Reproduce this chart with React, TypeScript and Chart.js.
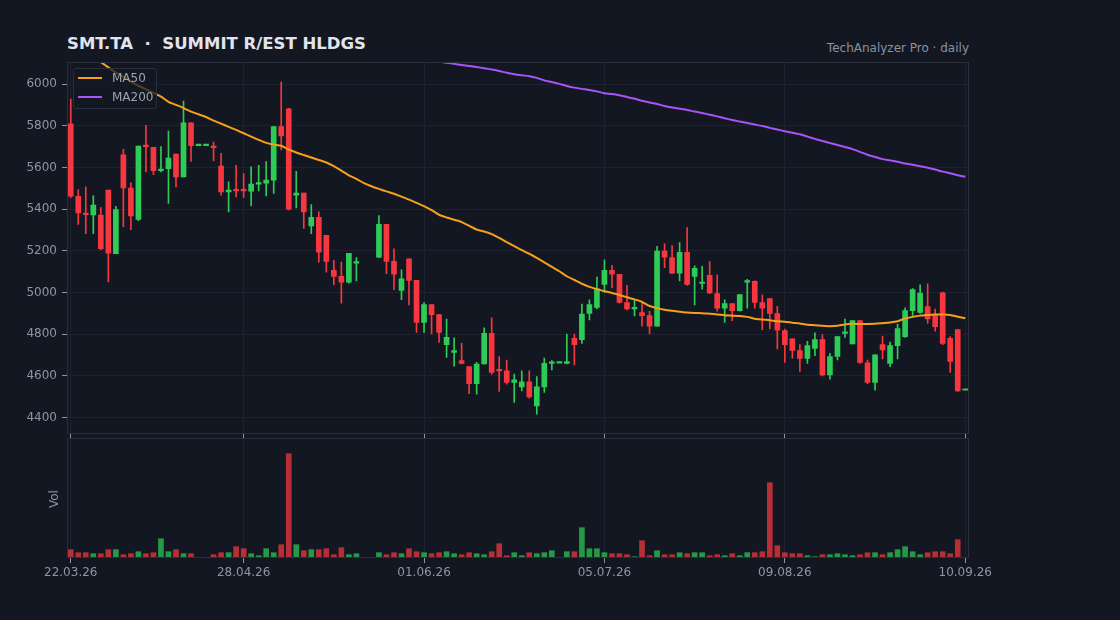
import React, { useEffect, useRef } from 'react';
import { Chart, registerables } from 'chart.js';

Chart.register(...registerables);

// ---------- data ----------
const opens: (number | null)[] = [
  5809, 5462, 5380, 5372, 5371, 5491, 5186, 5660, 5501, 5351,
  5703, 5697, 5584, 5594, 5664, 5554, 5814, 5705, 5705, 5703,
  5607, 5483, 5491, 5491, 5486, 5520, 5525, 5539, 5796, 5881,
  5467, 5477, 5319, 5361, 5274, 5106, 5077, 5050, 5141, null,
  null, 5170, 5327, 5149, 5010, 5162, 5058, 4857, 4942, 4894,
  4750, 4713, 4673, 4644, 4563, 4657, 4804, 4629, 4624, 4568,
  4547, 4571, 4456, 4547, 4660, 4661, 4660, 4780, 4774, 4900,
  4929, 5039, 5106, 5087, 4952, 4921, 4904, 4889, 4838, 5199,
  5167, 5093, 5193, 5077, 5043, 5082, 4995, 4925, 4947, 4913,
  5050, 5053, 4952, 4971, 4899, 4817, 4778, 4721, 4684, 4732,
  4774, 4605, 4693, 4804, 4753, 4865, 4663, 4568, 4750, 4660,
  4745, 4788, 4913, 4904, 4933, 4889, 4998, 4780, 4822, 4531,
];
const highs: (number | null)[] = [
  5928, 5494, 5507, 5465, 5408, 5491, 5414, 5687, 5526, 5703,
  5802, 5697, 5700, 5774, 5664, 5918, 5814, 5705, 5705, 5722,
  5668, 5531, 5610, 5571, 5603, 5610, 5628, 5796, 6010, 5884,
  5581, 5477, 5422, 5387, 5274, 5154, 5146, 5188, 5167, null,
  null, 5369, 5327, 5209, 5109, 5162, 5058, 4952, 4942, 4894,
  4873, 4782, 4756, 4644, 4665, 4830, 4878, 4692, 4676, 4608,
  4624, 4624, 4597, 4685, 4673, 4661, 4801, 4801, 4945, 4965,
  5074, 5157, 5130, 5087, 5035, 4965, 4952, 4910, 5221, 5234,
  5225, 5239, 5311, 5128, 5125, 5148, 5085, 4965, 4947, 4990,
  5063, 5056, 4989, 4971, 4934, 4825, 4778, 4750, 4766, 4806,
  4798, 4708, 4788, 4873, 4865, 4865, 4676, 4701, 4791, 4762,
  4849, 4926, 5019, 5037, 5042, 4921, 5002, 4788, 4822, 4531,
];
const lows: (number | null)[] = [
  5455, 5327, 5282, 5282, 5205, 5051, 5186, 5315, 5302, 5345,
  5579, 5565, 5579, 5427, 5507, 5554, 5629, 5705, 5705, 5632,
  5467, 5387, 5459, 5456, 5416, 5488, 5464, 5475, 5684, 5396,
  5406, 5307, 5282, 5146, 5098, 5037, 4949, 5045, 5055, null,
  null, 5167, 5090, 5013, 4965, 4941, 4809, 4809, 4801, 4761,
  4689, 4647, 4657, 4515, 4512, 4657, 4608, 4525, 4560, 4472,
  4528, 4493, 4416, 4520, 4628, 4661, 4657, 4652, 4756, 4868,
  4921, 5002, 5022, 4949, 4917, 4888, 4838, 4801, 4838, 5119,
  5090, 5055, 5034, 4941, 5016, 4994, 4910, 4857, 4865, 4910,
  4925, 4925, 4820, 4825, 4729, 4665, 4685, 4621, 4660, 4697,
  4600, 4584, 4676, 4785, 4753, 4660, 4563, 4531, 4681, 4644,
  4681, 4785, 4888, 4900, 4852, 4814, 4750, 4616, 4525, 4531,
];
const closes: (number | null)[] = [
  5462, 5382, 5374, 5419, 5210, 5189, 5398, 5502, 5368, 5703,
  5700, 5584, 5592, 5645, 5555, 5814, 5705, 5705, 5705, 5695,
  5483, 5491, 5488, 5488, 5520, 5523, 5539, 5796, 5751, 5400,
  5477, 5387, 5361, 5194, 5149, 5077, 5050, 5188, 5148, null,
  null, 5327, 5149, 5088, 5066, 5058, 4857, 4942, 4894, 4809,
  4785, 4721, 4660, 4563, 4657, 4804, 4616, 4624, 4568, 4581,
  4571, 4499, 4547, 4660, 4662, 4661, 4668, 4750, 4897, 4942,
  5018, 5106, 5088, 4952, 4921, 4929, 4889, 4838, 5199, 5170,
  5093, 5193, 5039, 5116, 5050, 4998, 4925, 4947, 4913, 4990,
  5055, 4952, 4925, 4900, 4819, 4750, 4722, 4684, 4745, 4774,
  4605, 4692, 4788, 4807, 4865, 4664, 4568, 4701, 4724, 4745,
  4827, 4913, 5014, 4997, 4873, 4836, 4756, 4669, 4528, 4531,
];
const volumes: (number | null)[] = [
  8300, 5300, 5300, 4300, 4300, 8300, 8300, 3300, 4300, 6300,
  4300, 5300, 19300, 6300, 8300, 4300, 4300, 0, 0, 3300,
  5300, 5300, 11300, 9300, 4300, 2300, 9300, 5300, 13300, 104300,
  13300, 7300, 8300, 8300, 9300, 3300, 10300, 3300, 4300, null,
  null, 5300, 3300, 5300, 4300, 9300, 6300, 5300, 4300, 5300,
  6300, 4300, 3300, 5300, 4300, 3300, 6300, 14300, 2300, 5300,
  2300, 5300, 4300, 5300, 7300, 0, 6300, 6300, 30300, 9300,
  9300, 5300, 4300, 4300, 3300, 1300, 17300, 2300, 7300, 3300,
  3300, 5300, 4300, 5300, 5300, 2300, 3300, 2300, 4300, 2300,
  5300, 5300, 6300, 75300, 12300, 5300, 4300, 4300, 2300, 1300,
  3300, 3300, 4300, 3300, 2300, 3300, 5300, 5300, 3300, 5300,
  8300, 11300, 6300, 3300, 5300, 6300, 6300, 4300, 18300, 0,
];
const ma50: number[] = [
  6190, 6170, 6150, 6128, 6105, 6080, 6055, 6035, 6012, 5992,
  5975, 5958, 5940, 5915, 5900, 5885, 5868, 5855, 5842, 5825,
  5810, 5795, 5780, 5764, 5748, 5732, 5718, 5710, 5704, 5686,
  5672, 5660, 5648, 5636, 5624, 5606, 5585, 5562, 5545, 5525,
  5510, 5497, 5485, 5474, 5460, 5446, 5430, 5414, 5395, 5373,
  5360, 5349, 5338, 5320, 5302, 5293, 5280, 5262, 5242, 5222,
  5203, 5186, 5166, 5145, 5123, 5102, 5078, 5060, 5042, 5027,
  5016, 5006, 4998, 4988, 4977, 4967, 4955, 4935, 4925, 4917,
  4912, 4908, 4904, 4902, 4901, 4898, 4895, 4891, 4889, 4887,
  4883, 4874, 4870, 4867, 4862, 4860, 4855, 4851, 4845, 4843,
  4840, 4838, 4840, 4847, 4850, 4849, 4849, 4850, 4853, 4856,
  4862, 4875, 4883, 4889, 4892, 4894, 4894, 4892, 4884, 4876,
];
const ma200Start = 46;
const ma200: number[] = [
  6140, 6130, 6120, 6110, 6102, 6097, 6092, 6087, 6082, 6076,
  6070, 6063, 6054, 6047, 6042, 6038, 6030, 6018, 6010, 6001,
  5991, 5983, 5977, 5972, 5965, 5956, 5952, 5946, 5938, 5930,
  5920, 5912, 5904, 5895, 5888, 5882, 5876, 5868, 5861, 5853,
  5845, 5836, 5828, 5820, 5813, 5806, 5799, 5790, 5782, 5774,
  5767, 5759, 5748, 5737, 5727, 5717, 5708, 5698, 5688, 5675,
  5661, 5650, 5640, 5634, 5627, 5619, 5613, 5606, 5599, 5590,
  5580, 5572, 5563, 5555,
];
const tickIndex = [0, 23, 47, 71, 95, 119];
const tickLabels = ['22.03.26', '28.04.26', '01.06.26', '05.07.26', '09.08.26', '10.09.26'];
const priceTicks = [4400, 4600, 4800, 5000, 5200, 5400, 5600, 5800, 6000];
const priceMin = 4322;
const priceMax = 6106;

// ---------- style ----------
const BG = '#131722';
const GRID = '#1e2230';
const FRAME = '#2a2e3b';
const TICK = '#8d95a3';
const LABEL = '#8d95a3';
const UP = '#2ecc57';
const DOWN = '#f6373f';
const UP_VOL = 'rgba(46,204,87,0.72)';
const DOWN_VOL = 'rgba(246,55,63,0.72)';
const MA50_C = '#f5a01a';
const MA200_C = '#a855f7';
const FONT = 'DejaVu Sans';

const framePlugin = {
  id: 'frame',
  afterDraw(chart: any) {
    const { ctx, chartArea: a } = chart;
    ctx.save();
    ctx.strokeStyle = FRAME;
    ctx.lineWidth = 1;
    const l = Math.round(a.left) + 0.5;
    const t = Math.round(a.top) + 0.5;
    const r = Math.round(a.right) - 0.5;
    const b = Math.round(a.bottom) - 0.5;
    ctx.strokeRect(l, t, r - l, b - t);
    ctx.restore();
  },
};

function isUp(i: number) {
  return (closes[i] as number) >= (opens[i] as number);
}

const xScaleBase = (showLabels: boolean, height: number) => ({
  type: 'linear' as const,
  min: -0.5,
  max: 119.5,
  offset: false,
  afterBuildTicks: (s: any) => {
    s.ticks = tickIndex.map((v) => ({ value: v }));
  },
  afterFit: (s: any) => {
    s.height = height;
  },
  grid: {
    offset: false,
    color: GRID,
    tickColor: TICK,
    tickLength: 5,
    drawTicks: true,
  },
  border: { display: false },
  ticks: {
    display: showLabels,
    autoSkip: false,
    maxRotation: 0,
    padding: 3,
    color: LABEL,
    font: { family: FONT, size: 12 },
    callback: (v: any) => {
      const k = tickIndex.indexOf(Number(v));
      return k >= 0 ? tickLabels[k] : null;
    },
  },
});

export default function App() {
  const priceRef = useRef<HTMLCanvasElement | null>(null);
  const volRef = useRef<HTMLCanvasElement | null>(null);

  useEffect(() => {
    Chart.defaults.font.family = FONT;
    Chart.defaults.font.size = 12;

    const idx = opens.map((_, i) => i).filter((i) => opens[i] !== null);
    const bodyData = idx.map((i) => ({ x: i, y: [opens[i] as number, closes[i] as number] }));
    const bodyColors = idx.map((i) => (isUp(i) ? UP : DOWN));
    const wickIdx = idx.filter((i) => (highs[i] as number) > (lows[i] as number));
    const wickData = wickIdx.map((i) => ({ x: i, y: [lows[i] as number, highs[i] as number] }));
    const wickColors = wickIdx.map((i) => (isUp(i) ? UP : DOWN));
    const ma50Data = ma50.map((v, i) => ({ x: i, y: v }));
    const ma200Data = ma200.map((v, i) => ({ x: ma200Start + i, y: v }));

    const priceChart = new Chart(priceRef.current as HTMLCanvasElement, {
      type: 'bar',
      data: {
        datasets: [
          {
            type: 'line',
            label: 'MA50',
            data: ma50Data,
            borderColor: MA50_C,
            borderWidth: 2,
            pointRadius: 0,
            tension: 0.2,
            order: 0,
          } as any,
          {
            type: 'line',
            label: 'MA200',
            data: ma200Data,
            borderColor: MA200_C,
            borderWidth: 2,
            pointRadius: 0,
            tension: 0.2,
            order: 0,
          } as any,
          {
            type: 'bar',
            label: 'body',
            data: bodyData,
            backgroundColor: bodyColors,
            barThickness: 5,
            minBarLength: 1.5,
            grouped: false,
            order: 1,
          } as any,
          {
            type: 'bar',
            label: 'wick',
            data: wickData,
            backgroundColor: wickColors,
            barThickness: 1,
            grouped: false,
            order: 2,
          } as any,
        ],
      },
      options: {
        animation: false,
        responsive: false,
        devicePixelRatio: 1,
        layout: { padding: { left: 0, right: 151, top: 62, bottom: 0 } },
        plugins: { legend: { display: false }, tooltip: { enabled: false } },
        scales: {
          x: xScaleBase(false, 5) as any,
          y: {
            type: 'linear',
            min: priceMin,
            max: priceMax,
            afterBuildTicks: (s: any) => {
              s.ticks = priceTicks.map((v) => ({ value: v }));
            },
            afterFit: (s: any) => {
              s.width = 67;
            },
            grid: { color: GRID, tickColor: TICK, tickLength: 5, drawTicks: true },
            border: { display: false },
            ticks: {
              color: LABEL,
              padding: 5,
              font: { family: FONT, size: 12 },
              callback: (v: any) => String(v),
            },
          },
        },
      },
      plugins: [framePlugin],
    });

    const volIdx = volumes.map((_, i) => i).filter((i) => volumes[i] !== null && (volumes[i] as number) > 0);
    const volData = volIdx.map((i) => ({ x: i, y: volumes[i] as number }));
    const volColors = volIdx.map((i) => (isUp(i) ? UP_VOL : DOWN_VOL));
    const maxVol = Math.max(...(volumes.filter((v) => v !== null) as number[]));

    const volChart = new Chart(volRef.current as HTMLCanvasElement, {
      type: 'bar',
      data: {
        datasets: [
          {
            label: 'Vol',
            data: volData,
            backgroundColor: volColors,
            barThickness: 5,
            grouped: false,
          } as any,
        ],
      },
      options: {
        animation: false,
        responsive: false,
        devicePixelRatio: 1,
        layout: { padding: { left: 67, right: 151, top: 8, bottom: 0 } },
        plugins: { legend: { display: false }, tooltip: { enabled: false } },
        scales: {
          x: xScaleBase(true, 62) as any,
          y: {
            type: 'linear',
            display: false,
            min: 0,
            max: maxVol * 1.15,
          },
        },
      },
      plugins: [framePlugin],
    });

    return () => {
      priceChart.destroy();
      volChart.destroy();
    };
  }, []);

  return (
    <div
      style={{
        position: 'fixed',
        left: 0,
        top: 0,
        width: 1120,
        height: 620,
        background: BG,
        overflow: 'hidden',
        fontFamily: FONT,
      }}
    >
      <div
        style={{
          position: 'absolute',
          left: 67,
          top: 34,
          fontSize: 16.5,
          lineHeight: '20px',
          fontWeight: 'bold',
          color: '#e1e4ec',
          whiteSpace: 'pre',
        }}
      >
        {'SMT.TA  ·  SUMMIT R/EST HLDGS'}
      </div>
      <div
        style={{
          position: 'absolute',
          right: 151,
          top: 40,
          fontSize: 12,
          lineHeight: '16px',
          color: '#8a92a1',
          whiteSpace: 'pre',
        }}
      >
        {'TechAnalyzer Pro · daily'}
      </div>
      <canvas
        ref={priceRef}
        width={1120}
        height={446}
        style={{ position: 'absolute', left: 0, top: 0, width: 1120, height: 446 }}
      />
      <canvas
        ref={volRef}
        width={1120}
        height={190}
        style={{ position: 'absolute', left: 0, top: 430, width: 1120, height: 190 }}
      />
      <div
        style={{
          position: 'absolute',
          left: 73,
          top: 68,
          width: 82,
          height: 39,
          border: '1px solid #2a2f3d',
          borderRadius: 3,
          background: 'rgba(19,23,34,0.72)',
        }}
      >
        {[
          { name: 'MA50', color: MA50_C, top: 9 },
          { name: 'MA200', color: MA200_C, top: 28 },
        ].map((it) => (
          <div key={it.name}>
            <div
              style={{
                position: 'absolute',
                left: 4,
                top: it.top - 1,
                width: 24,
                height: 2,
                background: it.color,
              }}
            />
            <div
              style={{
                position: 'absolute',
                left: 38,
                top: it.top - 8,
                fontSize: 12,
                lineHeight: '16px',
                color: '#9ba3b0',
                whiteSpace: 'pre',
              }}
            >
              {it.name}
            </div>
          </div>
        ))}
      </div>
      <div
        style={{
          position: 'absolute',
          left: 53.5,
          top: 499,
          transform: 'translate(-50%, -50%) rotate(-90deg)',
          fontSize: 12,
          lineHeight: '14px',
          color: '#8a92a1',
          whiteSpace: 'pre',
        }}
      >
        Vol
      </div>
    </div>
  );
}
